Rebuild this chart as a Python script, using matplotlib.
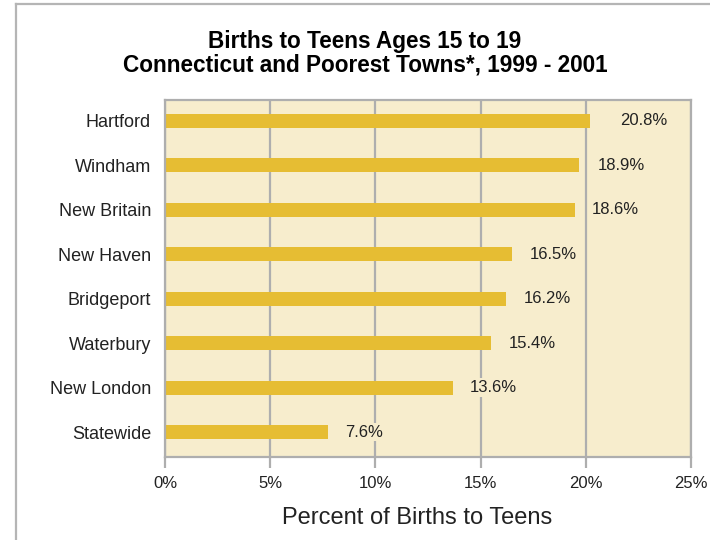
import matplotlib

matplotlib.use("Agg")

import matplotlib.pyplot as plt
from matplotlib.lines import Line2D

plt.rcParams["font.family"] = ["Liberation Sans", "DejaVu Sans"]

towns = ["Hartford", "Windham", "New Britain", "New Haven",
         "Bridgeport", "Waterbury", "New London", "Statewide"]
# bar lengths as drawn in the source chart (percent)
bar_pct = [20.2, 19.7, 19.5, 16.5, 16.2, 15.5, 13.7, 7.75]
value_labels = ["20.8%", "18.9%", "18.6%", "16.5%", "16.2%", "15.4%", "13.6%", "7.6%"]
x_ticks = [0, 5, 10, 15, 20, 25]
x_tick_labels = ["0%", "5%", "10%", "15%", "20%", "25%"]

BAR = "#E6BD33"
BG = "#F7EDCD"
GRID = "#AEAEAE"
label_gap_pt = [22, 13, 12, 13, 13, 13, 12, 12]

W, H = 710, 540
fig = plt.figure(figsize=(W / 100, H / 100), dpi=100)

# outer frame (only top and left edges visible)
fig.add_artist(Line2D([16 / W, 16 / W], [0, 1 - 3.5 / H], color="#B5B5B5", linewidth=1.6,
                      transform=fig.transFigure))
fig.add_artist(Line2D([16 / W, 1], [1 - 3.5 / H, 1 - 3.5 / H], color="#B5B5B5", linewidth=1.6,
                      transform=fig.transFigure))

ax = fig.add_axes([165 / W, 1 - 457 / H, 526 / W, 357 / H])
ax.set_facecolor(BG)

pos = list(range(len(towns)))
ax.barh(pos, bar_pct, height=0.31, color=BAR, zorder=2)
for i, (v, lab) in enumerate(zip(bar_pct, value_labels)):
    ax.annotate(lab, (v, i), xytext=(label_gap_pt[i], 0), textcoords="offset points",
                ha="left", va="center", fontsize=12, color="#222222", zorder=3,
                bbox=dict(boxstyle="square,pad=0.1", facecolor=BG, edgecolor="none"))

ax.set_xlim(0, 25)
ax.set_ylim(7.56, -0.47)
ax.set_xticks(x_ticks)
ax.set_xticklabels(x_tick_labels, fontsize=12, color="#222222")
ax.set_yticks(pos)
ax.set_yticklabels(towns, fontsize=13, color="#222222")
ax.tick_params(axis="y", length=0, pad=10)
ax.tick_params(axis="x", length=8, width=1.6, color=GRID, pad=6)
ax.grid(axis="x", color=GRID, linewidth=1.6, zorder=1)
ax.set_axisbelow(True)
for sp in ax.spines.values():
    sp.set_color(GRID)
    sp.set_linewidth(1.6)

ax.set_xlabel("Percent of Births to Teens", fontsize=17, color="#222222")
ax.xaxis.set_label_coords((417 - 165) / 526, (457 - 518) / 357)
ax.xaxis.label.set_verticalalignment("center")

fig.text(365 / W, 1 - 48 / H, "Births to Teens Ages 15 to 19", ha="center", va="baseline",
         fontsize=16.3, fontweight="bold", color="black")
fig.text(365 / W, 1 - 71.5 / H, "Connecticut and Poorest Towns*, 1999 - 2001", ha="center",
         va="baseline", fontsize=16.3, fontweight="bold", color="black")

fig.savefig("out.png", dpi=100)
